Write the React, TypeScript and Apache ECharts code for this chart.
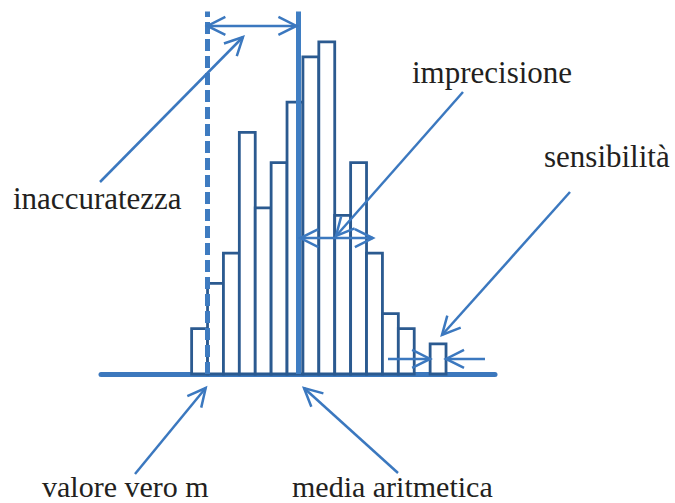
import React, { useEffect, useRef } from "react";
import * as echarts from "echarts";

// histogram bins (bin i spans [i, i+1]) and their counts
const binStarts = [0, 1, 2, 3, 4, 5, 6, 7, 8, 9, 10, 11, 12, 13, 14, 15];
const counts = [3, 6, 8, 16, 11, 14, 18, 21, 22, 10.5, 14, 8, 4, 3, 0, 2];

// reference values on the x scale
const trueValue = 0.97;
const meanValue = 6.69;
const spreadEnd = 11.4;
const sensStart = 15;
const sensEnd = 16;

// annotation texts
const labelTexts = ["inaccuratezza", "imprecisione", "sensibilità", "valore vero m", "media aritmetica"];

const BAR_STROKE = "#2B5A90";
const LINE_BLUE = "#3B78BF";
const TEXT_COLOR = "#231F20";
const FONT = '"Liberation Serif", "Times New Roman", serif';

function head(tip: number[], from: number[], len = 18, half = 9) {
  const dx = tip[0] - from[0];
  const dy = tip[1] - from[1];
  const d = Math.hypot(dx, dy) || 1;
  const ux = dx / d, uy = dy / d;
  const bx = tip[0] - ux * len, by = tip[1] - uy * len;
  const nx = -uy, ny = ux;
  return {
    type: "polyline",
    silent: true,
    shape: { points: [[bx + nx * half, by + ny * half], tip, [bx - nx * half, by - ny * half]] },
    style: { stroke: LINE_BLUE, lineWidth: 2.5, fill: null },
    z: 20,
  };
}

function line(a: number[], b: number[]) {
  return {
    type: "line",
    silent: true,
    shape: { x1: a[0], y1: a[1], x2: b[0], y2: b[1] },
    style: { stroke: LINE_BLUE, lineWidth: 2.5 },
    z: 20,
  };
}

function arrow(from: number[], tip: number[]) {
  return [line(from, tip), head(tip, from)];
}

function doubleArrow(a: number[], b: number[]) {
  return [line(a, b), head(a, b), head(b, a)];
}

function label(text: string, x: number, baseline: number, size = 31) {
  return {
    type: "text",
    silent: true,
    x,
    y: baseline - size * 0.34,
    style: {
      text,
      fill: TEXT_COLOR,
      fontSize: size,
      fontFamily: FONT,
      align: "left",
      verticalAlign: "middle",
    },
    z: 30,
  };
}

export default function App() {
  const ref = useRef<HTMLDivElement>(null);
  useEffect(() => {
    const chart = echarts.init(ref.current!, null, { renderer: "svg" });
    const data = binStarts.map((b, i) => [b, counts[i]]);
    chart.setOption({
      animation: false,
      backgroundColor: "#ffffff",
      grid: { left: 101, right: 180, top: 11.6, bottom: 129, containLabel: false },
      xAxis: {
        type: "value",
        min: -5.7,
        max: 19.08,
        axisLine: { show: true, onZero: false, lineStyle: { color: "#3C78BD", width: 5 } },
        axisTick: { show: false },
        axisLabel: { show: false },
        splitLine: { show: false },
      },
      yAxis: {
        type: "value",
        min: 0,
        max: 24,
        show: false,
        splitLine: { show: false },
      },
      series: [
        {
          type: "custom",
          data,
          clip: false,
          renderItem: (params: any, api: any) => {
            const x0 = api.value(0);
            const v = api.value(1);
            if (!v) return null;
            const a = api.coord([x0, v]);
            const b = api.coord([x0 + 1, 0]);
            return {
              type: "rect",
              shape: { x: a[0], y: a[1], width: b[0] - a[0], height: b[1] - a[1] },
              style: { fill: "#ffffff", stroke: BAR_STROKE, lineWidth: 2.8 },
            };
          },
          markLine: {
            silent: true,
            symbol: "none",
            label: { show: false },
            z: 10,
            data: [
              { xAxis: trueValue, lineStyle: { color: "#3E7BC0", width: 5, type: [12, 5] } },
              { xAxis: meanValue, lineStyle: { color: "#3F7EC3", width: 5, type: "solid" } },
            ],
          },
        },
      ],
    });

    const p = (x: number, y: number) => chart.convertToPixel({ gridIndex: 0 }, [x, y]) as number[];

    const elements: any[] = [
      ...doubleArrow(p(trueValue + 0.02, 23.05), p(meanValue - 0.1, 23.05)),
      ...doubleArrow(p(meanValue + 0.15, 9.0), p(spreadEnd, 9.0)),
      ...arrow(p(12.35, 1.0), p(sensStart, 1.0)),
      ...arrow(p(18.45, 1.0), p(sensEnd, 1.0)),
      ...arrow([100, 182], [243, 37]),
      ...arrow([463, 92], [336, 236]),
      ...arrow([570, 192], [442, 335]),
      ...arrow([135, 474], [205.7, 388]),
      ...arrow([398, 473], [304, 388]),
      label(labelTexts[0], 13, 209),
      label(labelTexts[1], 412, 83),
      label(labelTexts[2], 544, 167),
      label(labelTexts[3], 42, 497, 30),
      label(labelTexts[4], 292, 497, 30),
    ];
    chart.setOption({ graphic: elements });
    return () => chart.dispose();
  }, []);
  return (
    <div
      ref={ref}
      style={{ position: "absolute", left: 0, top: 0, width: 675, height: 503 }}
    />
  );
}
